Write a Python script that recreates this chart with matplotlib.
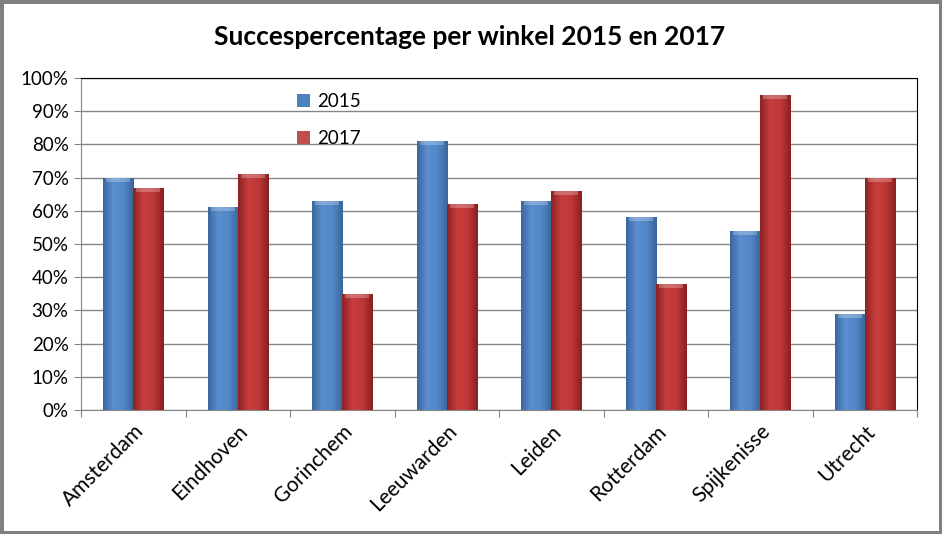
import numpy as np
import matplotlib.pyplot as plt
from matplotlib.colors import LinearSegmentedColormap

winkels = ['Amsterdam', 'Eindhoven', 'Gorinchem', 'Leeuwarden', 'Leiden',
           'Rotterdam', 'Spijkenisse', 'Utrecht']
pct_2015 = [70, 61, 63, 81, 63, 58, 54, 29]
pct_2017 = [67, 71, 35, 62, 66, 38, 95, 70]
y_ticks = [0, 10, 20, 30, 40, 50, 60, 70, 80, 90, 100]

plt.rcParams['font.family'] = ['Lato', 'DejaVu Sans']

fig = plt.figure(figsize=(9.42, 5.34), dpi=100)
fig.patch.set_edgecolor('#808080')
fig.patch.set_linewidth(5)
ax = fig.add_axes([0.086, 0.2322, 0.8875, 0.6218])

x = np.arange(len(winkels))
w = 0.2875
bars_a = ax.bar(x - w / 2, pct_2015, w, color='#4f81bd', label='2015', zorder=3)
bars_b = ax.bar(x + w / 2, pct_2017, w, color='#c0504d', label='2017', zorder=3)

# bevel-ish shading inside each bar
cm_blue = LinearSegmentedColormap.from_list('b', ['#3b679e', '#5b8fd0', '#5288c8', '#3a659a'])
cm_red = LinearSegmentedColormap.from_list('r', ['#8c2222', '#c83e3e', '#bf3838', '#8a2020'])
grad = np.linspace(0, 1, 64).reshape(1, -1)
for bars, cm in ((bars_a, cm_blue), (bars_b, cm_red)):
    for b in bars:
        x0, y0 = b.get_x(), b.get_y()
        im = ax.imshow(grad, cmap=cm, aspect='auto', zorder=4,
                       extent=(x0, x0 + b.get_width(), y0, y0 + b.get_height()))
        im.set_clip_path(b)
        # lighter cap on top
        ax.fill_between([x0 + 0.03, x0 + b.get_width() - 0.03],
                        b.get_height() - 1.2, b.get_height(),
                        color='white', alpha=0.25, lw=0, zorder=5)

ax.set_xlim(-0.5, len(winkels) - 0.5)
ax.set_ylim(0, 100)
ax.set_yticks(y_ticks)
ax.set_yticklabels([f'{t}%' for t in y_ticks], fontsize=13.5)
ax.set_xticks(np.arange(len(winkels) + 1) - 0.5)
ax.set_xticklabels([])
ax.set_xticks(x, minor=True)
ax.set_xticklabels(winkels, minor=True, rotation=45, ha='right',
                   rotation_mode='anchor', fontsize=15)
ax.tick_params(axis='x', which='minor', length=0, pad=8)
ax.tick_params(axis='x', which='major', length=5, color='#868686', direction='out')
ax.tick_params(axis='y', length=5, color='#868686', direction='out', pad=4)

ax.grid(axis='y', color='#868686', lw=1, zorder=0)
ax.set_axisbelow(True)
for s in ('left', 'bottom'):
    ax.spines[s].set_color('#868686')
for s in ('top', 'right'):
    ax.spines[s].set_color('black')

ax.legend(loc='upper left', bbox_to_anchor=(0.238, 1.005), frameon=False,
          handlelength=0.7, handleheight=0.7, labelspacing=1.05, fontsize=13.5,
          handletextpad=0.4)

fig.text(0.499, 0.93, 'Succespercentage per winkel 2015 en 2017',
         ha='center', va='center', fontsize=19, fontweight='bold')

fig.savefig('out.png', dpi=100, edgecolor=fig.get_edgecolor())
